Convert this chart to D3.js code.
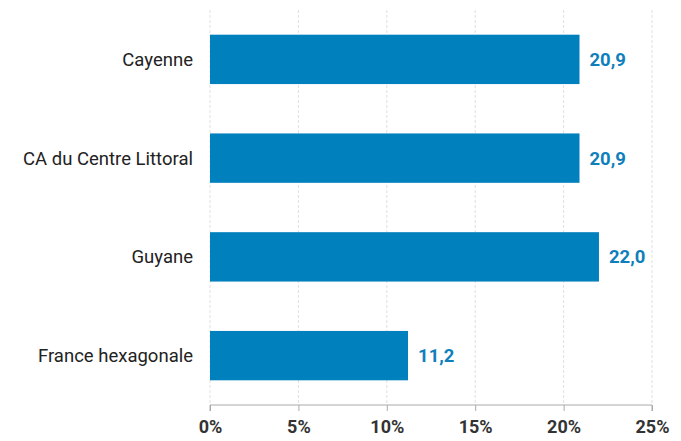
<!DOCTYPE html>
<html><head><meta charset="utf-8">
<script src="https://cdn.jsdelivr.net/npm/d3@7"></script>
<style>body{margin:0;background:#fff;font-family:Roboto,sans-serif;}</style>
</head><body><svg id="c" width="681" height="441"></svg>
<script>
const categories = ["Cayenne","CA du Centre Littoral","Guyane","France hexagonale"];
const values = [20.9, 20.9, 22.0, 11.2];
const ticks = [0,5,10,15,20,25];

const svg = d3.select("#c");
const m = {left:210, right:652, top:10, bottom:405};
const x = d3.scaleLinear().domain([0,25]).range([m.left,m.right]);
const y = d3.scaleBand().domain(categories).range([m.top,m.bottom]).paddingInner(0.5).paddingOuter(0.25);

// gridlines
svg.append("g").selectAll("line").data(ticks).join("line")
  .attr("x1",d=>x(d)).attr("x2",d=>x(d)).attr("y1",m.top).attr("y2",m.bottom)
  .attr("stroke","#e0e0e0").attr("stroke-dasharray","3,2").attr("stroke-width",1);

// bars
svg.append("g").selectAll("rect").data(values).join("rect")
  .attr("x",x(0)).attr("y",(d,i)=>y(categories[i]))
  .attr("width",d=>x(d)-x(0)).attr("height",y.bandwidth())
  .attr("fill","#0080bd");

// value labels
svg.append("g").selectAll("text").data(values).join("text")
  .attr("x",d=>x(d)+10).attr("y",(d,i)=>y(categories[i])+y.bandwidth()/2)
  .attr("dy","0.35em").attr("fill","#0f7fbb").attr("font-weight","bold").attr("font-size",18.5)
  .text(d=>d.toFixed(1).replace(".",","));

// category labels
svg.append("g").selectAll("text").data(categories).join("text")
  .attr("x",m.left-17).attr("y",d=>y(d)+y.bandwidth()/2)
  .attr("dy","0.35em").attr("text-anchor","end").attr("fill","#222").attr("font-size",18.5)
  .text(d=>d);

// x axis
const ax = svg.append("g").attr("transform",`translate(0,${m.bottom})`)
  .call(d3.axisBottom(x).tickValues(ticks).tickSize(6).tickPadding(9).tickFormat(d=>d+"%"));
ax.select(".domain").attr("stroke","#aaa").attr("d",`M${m.left},6V0H${m.right}V6`);
ax.selectAll(".tick line").attr("stroke","#aaa");
ax.selectAll(".tick text").attr("font-family","Roboto,sans-serif").attr("font-size",18).attr("font-weight","bold").attr("fill","#333");
</script></body></html>
